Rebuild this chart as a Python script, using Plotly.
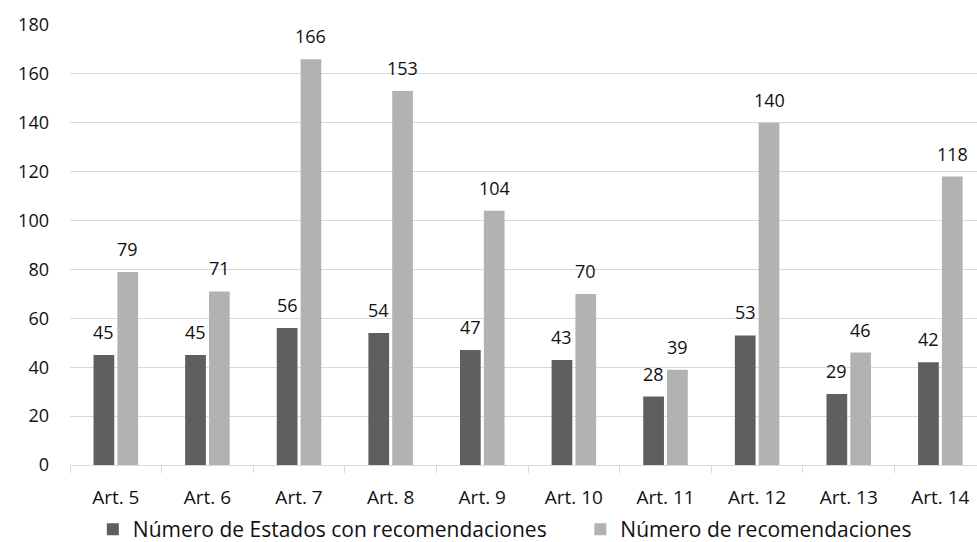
import plotly.graph_objects as go

categories = ["Art. 5", "Art. 6", "Art. 7", "Art. 8", "Art. 9", "Art. 10",
              "Art. 11", "Art. 12", "Art. 13", "Art. 14"]
estados = [45, 45, 56, 54, 47, 43, 28, 53, 29, 42]
recomendaciones = [79, 71, 166, 153, 104, 70, 39, 140, 46, 118]
y_ticks = [0, 20, 40, 60, 80, 100, 120, 140, 160, 180]

FONT = "Open Sans"
TXT = "#111111"
BARGAP = 0.48
X_RANGE = [-0.5, 9.4]
PLOT_W = 977 - 70

fig = go.Figure()
fig.add_trace(go.Bar(
    x=categories, y=estados, name="Número de Estados con recomendaciones",
    marker=dict(color="#5f5f5f", line=dict(width=0)), legend="legend",
))
fig.add_trace(go.Bar(
    x=categories, y=recomendaciones, name="Número de recomendaciones",
    marker=dict(color="#b2b2b2", line=dict(width=0)), legend="legend2",
))

# data labels above each bar (offset = half a bar slot within the group)
cat_px = PLOT_W / (X_RANGE[1] - X_RANGE[0])
slot_px = cat_px * (1 - BARGAP) / 2
for series, sign in ((estados, -1), (recomendaciones, 1)):
    for c, v in zip(categories, series):
        fig.add_annotation(x=c, y=v, text=str(v), showarrow=False,
                           xshift=sign * slot_px / 2, yshift=9,
                           yanchor="bottom", xanchor="center",
                           font=dict(family=FONT, size=18, color=TXT))

leg_common = dict(orientation="h", xanchor="left", yref="paper", y=-0.10,
                  yanchor="top", font=dict(family=FONT, size=21, color=TXT),
                  itemwidth=30, bgcolor="rgba(0,0,0,0)")

fig.update_layout(
    width=977, height=542,
    margin=dict(l=70, r=0, t=25, b=77, autoexpand=False),
    paper_bgcolor="white", plot_bgcolor="white",
    barmode="group", bargap=BARGAP, bargroupgap=0.13,
    font=dict(family=FONT, size=18, color=TXT),
    showlegend=True,
    legend=dict(xref="container", x=0.095, **leg_common),
    legend2=dict(xref="container", x=0.594, **leg_common),
)
fig.update_xaxes(
    type="category", range=X_RANGE, automargin=False,
    showline=True, linecolor="#d9d9d9", linewidth=1,
    ticks="outside", tickson="boundaries", ticklen=7, tickcolor="#d9d9d9",
    tickfont=dict(family=FONT, size=19, color=TXT), ticklabelstandoff=15,
    showgrid=False,
)
fig.update_yaxes(
    range=[0, 180], tickvals=y_ticks, automargin=False,
    showgrid=True, gridcolor="#d9d9d9", gridwidth=1, zeroline=False,
    showline=False, ticks="", ticklabelstandoff=20,
    tickfont=dict(family=FONT, size=18, color=TXT),
)

fig.write_html("out.html")
